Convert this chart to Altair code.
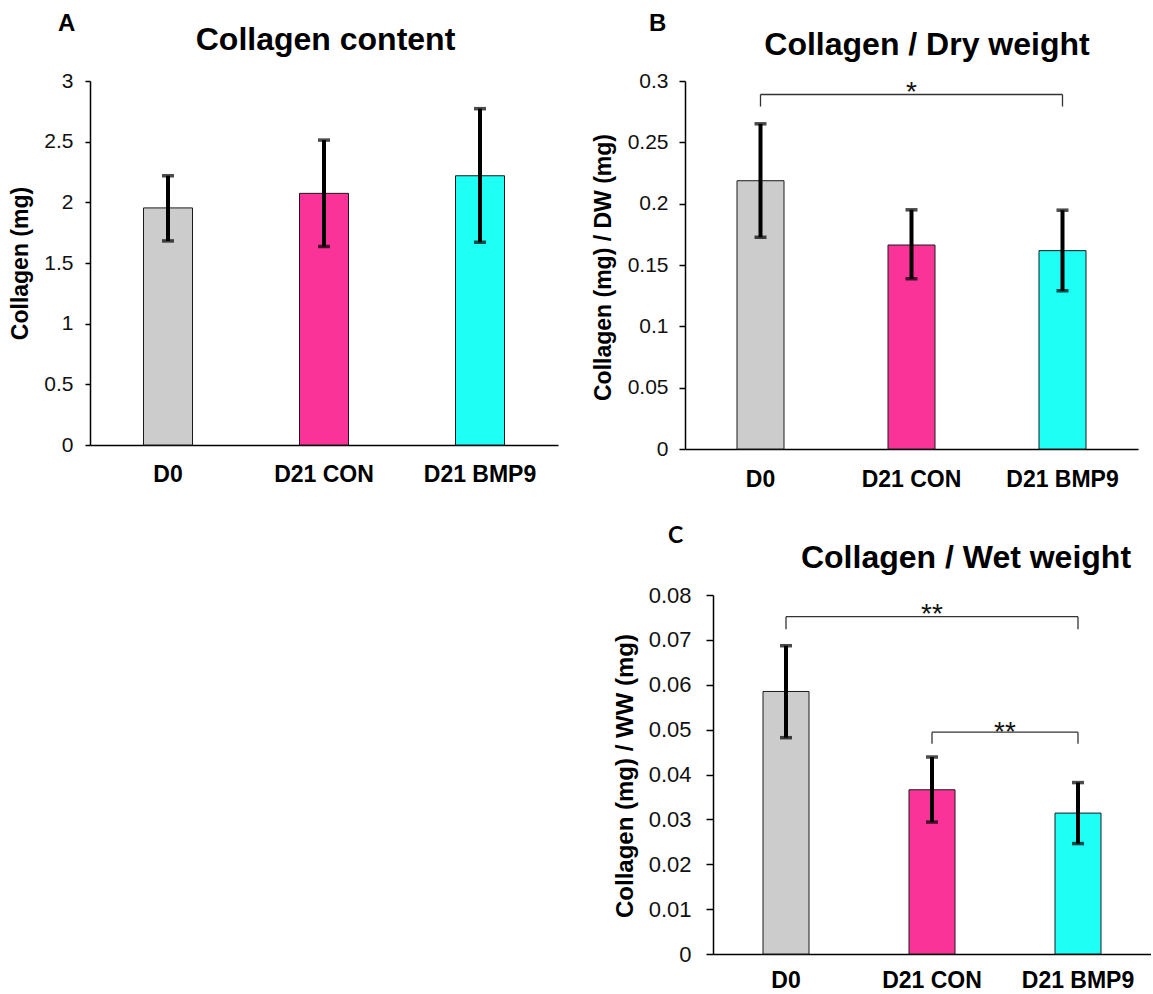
import altair as alt
import pandas as pd

# ---------------- data ----------------
GROUPS = ["D0", "D21 CON", "D21 BMP9"]
COLORS = ["#cccccc", "#fa3399", "#1efff5"]

A_MEAN = [1.954, 2.074, 2.219]
A_LOW = [1.682, 1.636, 1.671]
A_HIGH = [2.219, 2.513, 2.772]
A_TICKS = [0, 0.5, 1, 1.5, 2, 2.5, 3]

B_MEAN = [0.2187, 0.1663, 0.1617]
B_LOW = [0.1726, 0.1388, 0.1290]
B_HIGH = [0.2651, 0.1950, 0.1947]
B_TICKS = [0, 0.05, 0.1, 0.15, 0.2, 0.25, 0.3]

C_MEAN = [0.0585, 0.0366, 0.0314]
C_LOW = [0.0482, 0.0294, 0.0246]
C_HIGH = [0.0687, 0.0439, 0.0382]
C_TICKS = [0, 0.01, 0.02, 0.03, 0.04, 0.05, 0.06, 0.07, 0.08]

# significance brackets
B_BR_FROM = ["D0"]
B_BR_TO = ["D21 BMP9"]
B_BR_TOP = [0.289]
B_BR_FOOT = [0.2792]
B_STAR_TEXT = ["*"]
B_STAR_AT = ["D21 CON"]
B_STAR_BAND = [0.5]
B_STAR_Y = [0.2837]

C_BR_FROM = ["D0", "D21 CON"]
C_BR_TO = ["D21 BMP9", "D21 BMP9"]
C_BR_TOP = [0.07517, 0.04943]
C_BR_FOOT = [0.07239, 0.04683]
C_STAR_TEXT = ["**", "**"]
C_STAR_AT = ["D21 CON", "D21 CON"]
C_STAR_BAND = [0.5, 1.0]
C_STAR_Y = [0.07384, 0.04741]

FONT = "Liberation Sans"


def panel(letter, letter_font, letter_size, letter_xy, title, title_xy,
          ytitle, ytitle_x, ytitle_dy, ytitle_size,
          mean, low, high, ticks, w, h, bar_w, tick_size, label_pad, tick_font,
          xlab_size, xlab_pad, shift=0,
          br_from=None, br_to=None, br_top=None, br_foot=None,
          star_text=None, star_at=None, star_band=None, star_y=None):
    """shift > 0 moves the plot area right inside a view of width w."""
    df = pd.DataFrame({"group": GROUPS, "mean": mean, "low": low, "high": high})
    base = alt.Chart(df)
    if shift:
        xscale = alt.Scale(domain=GROUPS, paddingInner=0, paddingOuter=0, range=[shift, w])
    else:
        xscale = alt.Scale(domain=GROUPS, paddingInner=0, paddingOuter=0)
    yscale = alt.Scale(domain=[ticks[0], ticks[-1]], nice=False, zero=True)

    xaxis = alt.Axis(title=None, labelAngle=0, ticks=False, labelFont=FONT,
                     labelFontSize=xlab_size, labelFontWeight="bold", labelColor="#000",
                     labelPadding=xlab_pad, domainColor="#000", domainWidth=1.5,
                     grid=False)
    yaxis = alt.Axis(values=ticks, format="~g", grid=False, title=ytitle, offset=-shift,
                     titleFont=FONT, titleFontSize=ytitle_size, titleFontWeight="bold",
                     titleColor="#000", titleAngle=-90, titleAlign="center",
                     titleBaseline="alphabetic", titleX=ytitle_x, titleY=h / 2 + ytitle_dy,
                     labelFont=FONT, labelFontSize=tick_font, labelColor="#111",
                     labelPadding=label_pad, tickSize=tick_size, tickWidth=1.5,
                     tickColor="#000", domainColor="#000", domainWidth=1.5)

    bars = base.mark_bar(size=bar_w, stroke="#1a1a1a", strokeWidth=1).encode(
        x=alt.X("group:N", sort=GROUPS, scale=xscale, axis=xaxis),
        y=alt.Y("mean:Q", scale=yscale, axis=yaxis),
        color=alt.Color("group:N", scale=alt.Scale(domain=GROUPS, range=COLORS), legend=None),
    )
    stems = base.mark_rule(strokeWidth=4, color="#000").encode(
        x=alt.X("group:N", sort=GROUPS), y=alt.Y("low:Q"), y2="high:Q")
    cap_lo = base.mark_tick(orient="horizontal", size=12, thickness=3.5, color="#000").encode(
        x=alt.X("group:N", sort=GROUPS), y=alt.Y("low:Q"))
    cap_hi = base.mark_tick(orient="horizontal", size=12, thickness=3.5, color="#000").encode(
        x=alt.X("group:N", sort=GROUPS), y=alt.Y("high:Q"))
    layers = [bars, stems, cap_lo, cap_hi]

    if br_from:
        br = pd.DataFrame({"from": br_from, "to": br_to, "top": br_top, "foot": br_foot})
        layers.append(alt.Chart(br).mark_rule(strokeWidth=1.3, color="#333").encode(
            x=alt.X("from:N", bandPosition=0.5),
            x2=alt.X2("to:N", bandPosition=0.5),
            y=alt.Y("top:Q")))
        drops = pd.DataFrame({"cat": list(br_from) + list(br_to),
                              "top": list(br_top) * 2, "foot": list(br_foot) * 2})
        layers.append(alt.Chart(drops).mark_rule(strokeWidth=1.3, color="#333").encode(
            x=alt.X("cat:N", bandPosition=0.5), y=alt.Y("foot:Q"), y2="top:Q"))
        st = pd.DataFrame({"at": star_at, "band": star_band, "sy": star_y, "label": star_text})
        for bp in sorted(set(star_band)):
            sub = st[st["band"] == bp]
            layers.append(alt.Chart(sub).mark_text(fontSize=28, font=FONT, baseline="alphabetic",
                                                   align="center", color="#111").encode(
                x=alt.X("at:N", bandPosition=bp), y=alt.Y("sy:Q"), text="label:N"))

    # panel letter
    layers.append(alt.Chart(alt.Data(values=[{"t": letter}])).mark_text(
        font=letter_font, fontSize=letter_size, fontWeight="bold", align="left",
        baseline="alphabetic", color="#000").encode(
        x=alt.value(letter_xy[0] + shift), y=alt.value(letter_xy[1]), text="t:N"))
    # panel title
    layers.append(alt.Chart(alt.Data(values=[{"t": title}])).mark_text(
        font=FONT, fontSize=32, fontWeight="bold", align="center",
        baseline="alphabetic", color="#000").encode(
        x=alt.value(title_xy[0] + shift), y=alt.value(title_xy[1]), text="t:N"))

    return alt.layer(*layers).properties(width=w, height=h)


# panel A: plot area from x=91
chart_a = panel("A", FONT, 24, (-32, -50), "Collagen content", (235.5, -31),
                "Collagen (mg)", -63, 0, 23,
                A_MEAN, A_LOW, A_HIGH, A_TICKS, 468, 364, 49, 5, 12, 21, 23, 18)

# panel B: plot area from x=686
chart_b = panel("B", FONT, 24, (-36, -50), "Collagen / Dry weight", (242, -26),
                "Collagen (mg) / DW (mg)", -75, 2, 23,
                B_MEAN, B_LOW, B_HIGH, B_TICKS, 453, 368, 47, 6, 11, 21, 23, 19, 0,
                B_BR_FROM, B_BR_TO, B_BR_TOP, B_BR_FOOT,
                B_STAR_TEXT, B_STAR_AT, B_STAR_BAND, B_STAR_Y)

# panel C: column starts at x=686, plot area shifted 28 px right (x=714)
chart_c = panel("C", "Lato", 23, (-45, -52), "Collagen / Wet weight", (253, -27),
                "Collagen (mg) / WW (mg)", -81, 1, 24,
                C_MEAN, C_LOW, C_HIGH, C_TICKS, 466, 359, 46, 7, 15, 22, 23, 15, 28,
                C_BR_FROM, C_BR_TO, C_BR_TOP, C_BR_FOOT,
                C_STAR_TEXT, C_STAR_AT, C_STAR_BAND, C_STAR_Y)

blank = alt.Chart(alt.Data(values=[{"v": 0}])).mark_point(opacity=0).encode(
    x=alt.value(0), y=alt.value(0)).properties(width=10, height=10)

chart = alt.concat(chart_a, chart_b, blank, chart_c, columns=2,
                   spacing={"row": 146, "column": 127}, bounds="flush").properties(
    padding={"left": 9, "top": 12, "right": 0, "bottom": 0},
    background="white",
).configure(font=FONT).configure_view(strokeWidth=0, strokeOpacity=0)

chart.save("out.html", embed_options={"renderer": "svg", "actions": False})
